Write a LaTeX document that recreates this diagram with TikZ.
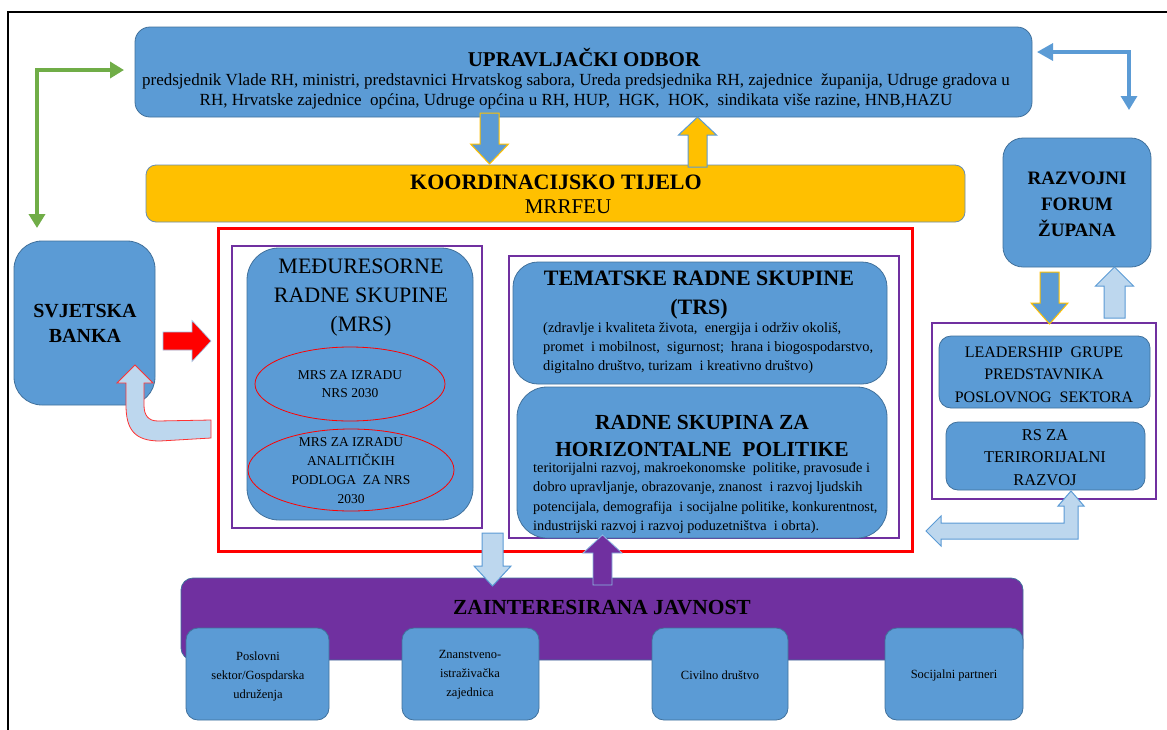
\documentclass[tikz,border=0pt]{standalone}
\usepackage{fontspec}
\setmainfont{Liberation Serif}
\usetikzlibrary{arrows.meta,shapes.geometric}
\definecolor{myblue}{HTML}{5B9BD5}
\definecolor{myborder}{HTML}{41719C}
\definecolor{mygold}{HTML}{FFC000}
\definecolor{mylight}{HTML}{BDD7EE}
\definecolor{mypurple}{HTML}{7030A0}
\definecolor{mygreen}{HTML}{70AD47}
\newcommand{\fsz}[2]{\fontsize{#1}{#2}\selectfont}
% style, x, y (base centre), rotation, length, shaft half width, head half width, head length
\newcommand{\blkarrow}[8]{%
  \begin{scope}[shift={(#2,#3)},rotate=#4]
    \path[#1] (0,-#6) -- ({#5-#8},-#6) -- ({#5-#8},-#7) -- (#5,0) -- ({#5-#8},#7) -- ({#5-#8},#6) -- (0,#6) -- cycle;
  \end{scope}}
\begin{document}
\begin{tikzpicture}[x=1pt,y=-1pt,
  box/.style={draw=myborder,line width=0.8pt,fill=myblue,inner sep=0pt},
  tx/.style={inner sep=0pt,align=center,text=black},
  txl/.style={inner sep=0pt,align=left,text=black,anchor=west},
  pframe/.style={draw=mypurple,line width=2pt},
  ell/.style={ellipse,draw=red,line width=0.8pt,inner sep=0pt},
  bluegold/.style={fill=myblue,draw=mygold,line width=1pt},
  goldblue/.style={fill=mygold,draw=myblue,line width=1pt},
  lightblue/.style={fill=mylight,draw=myblue,line width=1pt},
  purparr/.style={fill=mypurple,draw=myblue!70,line width=0.8pt},
  redarr/.style={fill=red,draw=myblue!60,line width=0.6pt},
  greenline/.style={draw=mygreen,line width=3.5pt,{Triangle[width=16pt,length=14pt]}-{Triangle[width=16pt,length=14pt]}},
  blueline/.style={draw=myblue,line width=3.2pt,{Triangle[width=17pt,length=16pt]}-{Triangle[width=16pt,length=14pt]}}
]
\useasboundingbox (0,0) rectangle (1167,729);
\clip (0,0) rectangle (1167,729);
\fill[white] (0,0) rectangle (1167,729);
% outer frame
\draw[line width=1.6pt,black] (8,12) rectangle (1200,760);

% ---------- boxes ----------
\node[box,rounded corners=15pt,minimum width=897pt,minimum height=90pt] (uo) at (583.5,72) {};
\node[draw=myborder!80,line width=0.8pt,fill=mygold,rounded corners=10pt,minimum width=819pt,minimum height=57pt,inner sep=0pt] (kt) at (555.5,193.5) {};
\node[box,rounded corners=28pt,minimum width=141pt,minimum height=164pt] (sb) at (84.5,323) {};
\node[box,rounded corners=20pt,minimum width=148pt,minimum height=129pt] (rf) at (1077,202.5) {};

% frames
\draw[red,line width=3pt] (218,228) rectangle (912,551);
\draw[pframe] (232,246) rectangle (482,528);
\draw[pframe] (509,256) rectangle (899,538);
\draw[pframe] (932,323) rectangle (1156,499);

\node[box,rounded corners=32pt,minimum width=226pt,minimum height=272pt] (mrs) at (360,384) {};
\node[box,rounded corners=25pt,minimum width=374pt,minimum height=122pt] (trs) at (700,323) {};
\node[box,rounded corners=30pt,minimum width=370pt,minimum height=151pt] (rshp) at (702,462.5) {};
\node[box,rounded corners=12pt,minimum width=211pt,minimum height=72pt] (lg) at (1044.5,372) {};
\node[box,rounded corners=12pt,minimum width=199pt,minimum height=68pt] (rs) at (1045.5,456) {};

\node[draw=myborder,line width=0.8pt,fill=mypurple,rounded corners=12pt,minimum width=842pt,minimum height=82pt,inner sep=0pt] (zj) at (602,619) {};
\node[box,rounded corners=12pt,minimum width=143pt,minimum height=92pt] (s1) at (257.5,674) {};
\node[box,rounded corners=12pt,minimum width=137pt,minimum height=92pt] (s2) at (470.5,674) {};
\node[box,rounded corners=12pt,minimum width=136pt,minimum height=92pt] (s3) at (720,674) {};
\node[box,rounded corners=12pt,minimum width=138pt,minimum height=92pt] (s4) at (954,674) {};

\node[ell,minimum width=190pt,minimum height=74pt] (e1) at (350,384) {};
\node[ell,minimum width=206pt,minimum height=82pt] (e2) at (351,470) {};

% ---------- texts ----------
\node[tx,font=\fsz{21}{24}\bfseries] (uot) at (584,58) {UPRAVLJAČKI ODBOR};
\node[tx,font=\fsz{17}{20}] (uob) at (576,91) {predsjednik Vlade RH, ministri, predstavnici Hrvatskog sabora, Ureda predsjednika RH, zajednice\ \ županija, Udruge gradova u\\RH, Hrvatske zajednice\ \ općina, Udruge općina u RH, HUP,\ \ HGK,\ \ HOK,\ \ sindikata više razine, HNB,HAZU};
\node[tx,font=\fsz{22}{24}\bfseries] (ktt) at (556,182) {KOORDINACIJSKO TIJELO};
\node[tx,font=\fsz{21}{24}] (ktb) at (568,207) {MRRFEU};

\node[tx,font=\fsz{20}{25}\bfseries] (sbt) at (85,323.5) {SVJETSKA\\BANKA};
\node[tx,font=\fsz{19}{26}\bfseries] (rft) at (1077,204) {RAZVOJNI\\FORUM\\ŽUPANA};

\node[tx,font=\fsz{22}{29}] (mrst) at (361,298) {MEĐURESORNE\\RADNE SKUPINE\\(MRS)};
\node[tx,font=\fsz{13.5}{18}] (e1t) at (350,384) {MRS ZA IZRADU\\NRS 2030};
\node[tx,font=\fsz{13.5}{19}] (e2t) at (351,470.5) {MRS ZA IZRADU\\ANALITIČKIH\\PODLOGA\ \ ZA NRS\\2030};

\node[tx,font=\fsz{22}{29}\bfseries] (trst) at (699,295.5) {TEMATSKE RADNE SKUPINE\\(TRS)};
\node[txl,font=\fsz{14.4}{19}] (trsb) at (543,348) {(zdravlje i kvaliteta života,\ \ energija i održiv okoliš,\\promet\ \ i mobilnost,\ \ sigurnost;\ \ hrana i biogospodarstvo,\\digitalno društvo, turizam\ \ i kreativno društvo)};

\node[tx,font=\fsz{21.5}{27}\bfseries] (rshpt) at (702,435.5) {RADNE SKUPINA ZA\\HORIZONTALNE\ \ POLITIKE};
\node[txl,font=\fsz{14.3}{19.3}] (rshpb) at (533,498) {teritorijalni razvoj, makroekonomske\ \ politike, pravosuđe i\\dobro upravljanje, obrazovanje, znanost\ \ i razvoj ljudskih\\potencijala, demografija\ \ i socijalne politike, konkurentnost,\\industrijski razvoj i razvoj poduzetništva\ \ i obrta).};

\node[tx,font=\fsz{16}{22.5}] (lgt) at (1044,374.5) {LEADERSHIP\ \ GRUPE\\PREDSTAVNIKA\\POSLOVNOG\ \ SEKTORA};
\node[tx,font=\fsz{16.5}{22.5}] (rst) at (1045,457.5) {RS ZA\\TERIRORIJALNI\\RAZVOJ};

\node[tx,font=\fsz{21.5}{24}\bfseries] (zjt) at (602,608) {ZAINTERESIRANA JAVNOST};
\node[tx,font=\fsz{12.5}{19}] (s1t) at (258,676) {Poslovni\\sektor/Gospdarska\\udruženja};
\node[tx,font=\fsz{12.5}{19}] (s2t) at (470,675) {Znanstveno-\\istraživačka\\zajednica};
\node[tx,font=\fsz{12.5}{19}] (s3t) at (720,675) {Civilno društvo};
\node[tx,font=\fsz{12.5}{19}] (s4t) at (954,675) {Socijalni partneri};

% ---------- block arrows ----------
\blkarrow{bluegold}{489.5}{113}{-90}{51}{9.5}{19}{20}
\blkarrow{goldblue}{697.5}{167}{90}{50}{9.5}{19}{18}
\blkarrow{lightblue}{492.5}{533}{-90}{53}{10.5}{18.5}{20}
\blkarrow{purparr}{602.5}{585}{90}{50}{9.5}{19.5}{18}
\blkarrow{redarr}{163}{341}{0}{48}{9}{20.5}{19}
\blkarrow{bluegold}{1049.5}{272}{-90}{52}{9.5}{18.5}{21}
\blkarrow{lightblue}{1114.5}{318}{90}{51}{10.5}{19}{19}

% curved return arrow to Svjetska banka
\path[fill=mylight,draw=red!80,line width=0.8pt] (211,420) -- (158,421) .. controls (148,421) and (144,415) .. (144,405) -- (144,383) -- (153,383) -- (135,365) -- (117,383) -- (126,383) -- (126,405) .. controls (126,430) and (135,441) .. (160,441) -- (211,438) -- cycle;

% elbow double arrow lower right
\path[fill=mylight,draw=myblue,line width=1pt] (926,531) -- (941,516) -- (941,523) -- (1064,523) -- (1064,506) -- (1058,506) -- (1071,491) -- (1084,506) -- (1078,506) -- (1078,539) -- (941,539) -- (941,546) -- cycle;

% ---------- line connectors ----------
\coordinate (gA) at (37,228);
\coordinate (gB) at (124,70);
\draw[greenline] (gA) |- (gB);
\coordinate (bA) at (1037,52);
\coordinate (bB) at (1129,110);
\draw[blueline] (bA) -| (bB);
\end{tikzpicture}
\end{document}
